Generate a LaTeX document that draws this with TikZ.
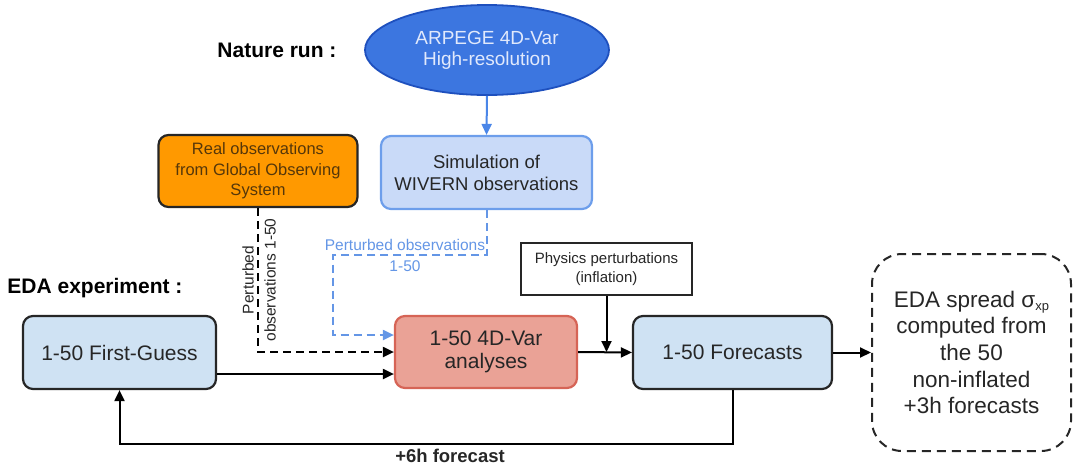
\documentclass[tikz,border=0pt]{standalone}
\usepackage{fontspec}
\setmainfont{Liberation Sans}
\usetikzlibrary{arrows.meta,shapes.geometric,calc}
\definecolor{txt}{RGB}{38,38,38}
\definecolor{ellfill}{RGB}{60,118,224}
\definecolor{elldraw}{RGB}{30,80,190}
\definecolor{elltext}{RGB}{225,233,252}
\definecolor{simfill}{RGB}{201,218,248}
\definecolor{simdraw}{RGB}{109,158,235}
\definecolor{bluebox}{RGB}{207,226,243}
\definecolor{orangefill}{RGB}{255,153,0}
\definecolor{orangetext}{RGB}{85,55,10}
\definecolor{varfill}{RGB}{234,162,150}
\definecolor{vardraw}{RGB}{214,100,86}
\definecolor{bluearrow}{RGB}{74,134,232}
\definecolor{bluedash}{RGB}{100,150,230}
\newcommand\setfs[2]{\fontsize{#1}{#2}\selectfont}
\begin{document}
\begin{tikzpicture}[x=1pt,y=-1pt,
  box/.style={draw=txt, line width=2.2pt, rounded corners=10pt, align=center, inner sep=0pt, text=txt},
  arr/.style={line width=2pt, -{Triangle[length=11pt,width=10pt]}},
  dsh/.style={dash pattern=on 8pt off 5pt},
  title/.style={font=\bfseries\setfs{21}{25}, text=black, inner sep=0pt}
]
\useasboundingbox (0,0) rectangle (1073,466);

% titles
\node[title] (nature) at (277,50) {Nature run :};
\node[title] (edaexp) at (95,288) {EDA experiment :};

% nodes
\node[ellipse, draw=elldraw, fill=ellfill, line width=1.8pt, minimum width=244pt, minimum height=90pt, inner sep=0pt, align=center, text=elltext, font=\setfs{19}{21}] (ell) at (487,50) {ARPEGE 4D-Var\\High-resolution};

\node[box, draw=simdraw, fill=simfill, minimum width=211pt, minimum height=73pt, font=\setfs{18.5}{22}] (sim) at (486.5,172.5) {Simulation of\\WIVERN observations};

\node[box, fill=orangefill, minimum width=199pt, minimum height=72pt, text=orangetext, font=\setfs{16.5}{20.5}] (obs) at (258,171) {Real observations\\from Global Observing\\System};

\node[box, fill=bluebox, minimum width=193pt, minimum height=73pt, font=\setfs{21}{24}] (fg) at (119.5,352.5) {1-50 First-Guess};

\node[box, draw=vardraw, fill=varfill, minimum width=182pt, minimum height=72pt, font=\setfs{21}{23.5}] (var) at (486,352) {1-50 4D-Var\\analyses};

\node[box, fill=bluebox, minimum width=199pt, minimum height=73pt, font=\setfs{21}{24}] (fc) at (732.5,352.5) {1-50 Forecasts};

\node[draw=txt, fill=white, line width=2pt, minimum width=171pt, minimum height=52pt, inner sep=0pt, align=center, text=txt, font=\setfs{15}{19}] (phys) at (606.5,269) {Physics perturbations\\(inflation)};

\node[draw=txt, line width=2pt, dash pattern=on 9pt off 6pt, rounded corners=30pt, minimum width=199pt, minimum height=197pt, inner sep=0pt, align=center, text=txt, font=\setfs{22.5}{26.7}] (eda) at (971.5,352.5) {EDA spread σ\raisebox{-0.25ex}{\setfs{13}{13}xp}\\computed from\\the 50\\non-inflated\\+3h forecasts};

% helper coordinates
\coordinate (bturn) at (333,255);
\coordinate (bin) at (333,335);
\coordinate (fgline) at (0,374);
\coordinate (loop) at (0,444);

% connectors
\draw[arr, color=bluearrow] (ell.south) -- (sim.north);

\draw[arr, dsh] (obs.south) |- (var.west);
\node[rotate=90, align=center, text=txt, font=\setfs{15.5}{22}, inner sep=0pt] (plab) at (259,280) {Perturbed\\observations 1-50};

\draw[arr, dsh, color=bluedash] (sim.south) |- (bturn) |- (var.west |- bin);
\node[align=center, text=bluedash, font=\setfs{15.5}{21}, inner sep=0pt] (blab) at (405,255) {Perturbed observations\\1-50};

\draw[arr] (fg.east |- fgline) -- (var.west |- fgline);
\draw[arr] (var.east) -- (fc.west);
\draw[arr] (phys.south) -- (phys.south |- var.east);
\draw[arr] (fc.east) -- (eda.west);
\draw[arr] (fc.south) |- (fg.south |- loop) -- (fg.south);
\node[font=\bfseries\setfs{18.5}{22}, text=txt, inner sep=0pt] (sixh) at (450,456) {+6h forecast};
\end{tikzpicture}
\end{document}
